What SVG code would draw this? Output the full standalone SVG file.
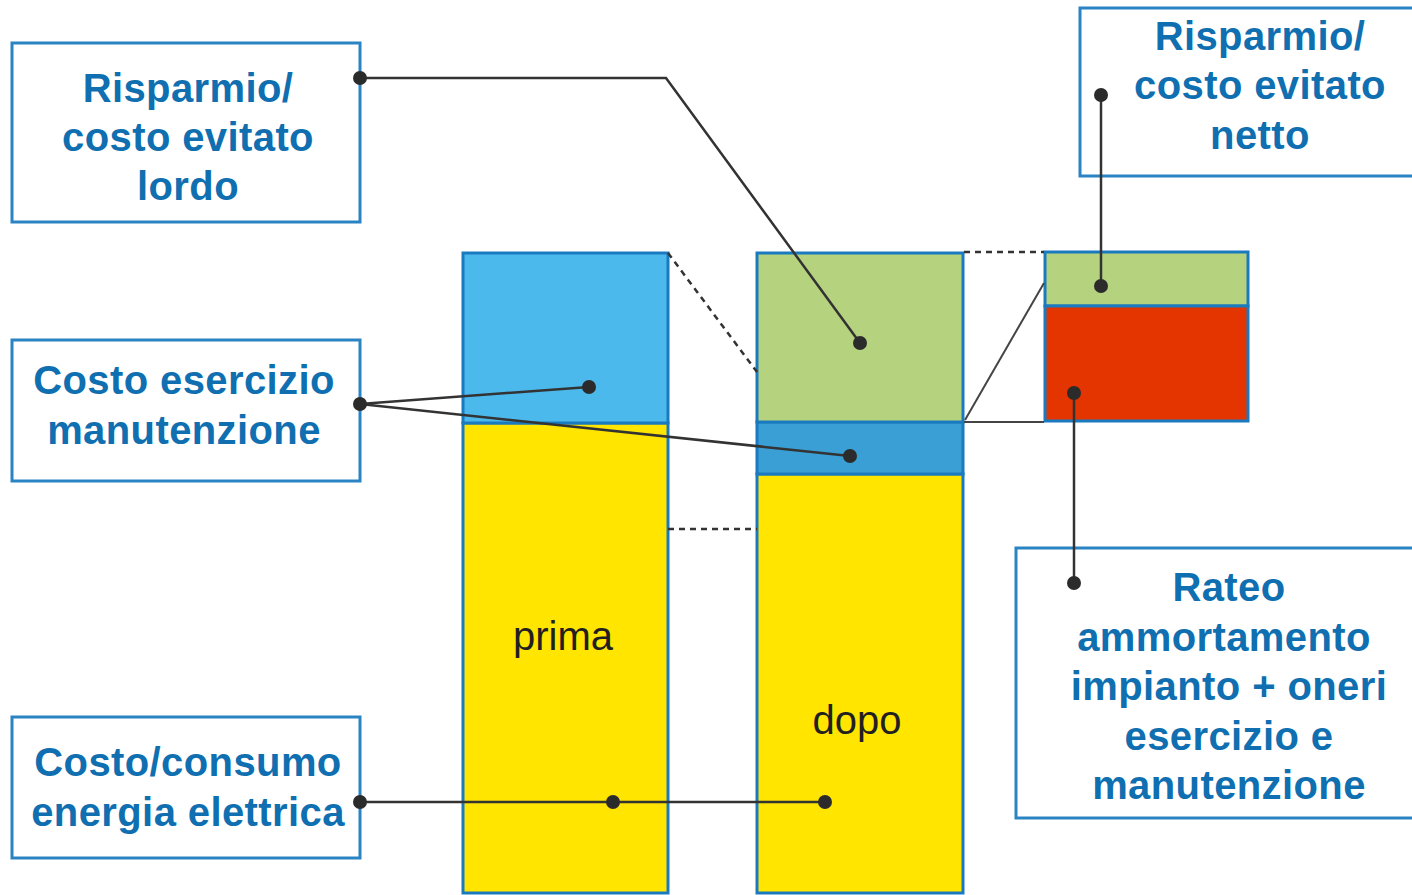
<svg xmlns="http://www.w3.org/2000/svg" width="1412" height="895" viewBox="0 0 1412 895">
<style>
.box{fill:#fff;stroke:#2a84c4;stroke-width:3}
.lbl{font-family:"Liberation Sans",Arial,sans-serif;font-weight:bold;font-size:40px;fill:#0f6fb0;text-anchor:middle;letter-spacing:0.4px}
.bar{font-family:"Liberation Sans",Arial,sans-serif;font-size:40px;fill:#231f20;text-anchor:middle}
.seg{stroke:#1a7ac0;stroke-width:3}
.ln{stroke:#333;stroke-width:2.5;fill:none}
.dash{stroke:#333;stroke-width:2.5;fill:none;stroke-dasharray:6 5}
.thin{stroke:#444;stroke-width:2;fill:none}
.dot{fill:#2b2b2b}
</style>
<rect width="1412" height="895" fill="#fff"/>
<g id="bar-prima">
<rect class="seg" x="463" y="423" width="205" height="470" fill="#ffe500" stroke-width="2"/>
<rect class="seg" x="463" y="253" width="205" height="170" fill="#4cb9ec"/>
<text class="bar" x="563" y="650">prima</text>
</g>
<g id="bar-dopo">
<rect class="seg" x="757" y="474" width="206" height="419" fill="#ffe500" stroke-width="2"/>
<rect class="seg" x="757" y="422" width="206" height="52" fill="#3a9fd4"/>
<rect class="seg" x="757" y="253" width="206" height="169" fill="#b5d27e" stroke-width="2"/>
<text class="bar" x="857" y="734">dopo</text>
</g>
<g id="bar-netto">
<rect class="seg" x="1045" y="252" width="203" height="54" fill="#b5d27e"/>
<rect class="seg" x="1045" y="306" width="203" height="115" fill="#e43400"/>
</g>
<g id="box-lordo">
<rect class="box" x="12" y="43" width="348" height="179"/>
<text class="lbl" x="188" y="102">Risparmio/</text>
<text class="lbl" x="188" y="151">costo evitato</text>
<text class="lbl" x="188" y="200">lordo</text>
</g>
<g id="box-esercizio">
<rect class="box" x="12" y="340" width="348" height="141"/>
<text class="lbl" x="184" y="394">Costo esercizio</text>
<text class="lbl" x="184" y="444">manutenzione</text>
</g>
<g id="box-energia">
<rect class="box" x="12" y="717" width="348" height="141"/>
<text class="lbl" x="188" y="776">Costo/consumo</text>
<text class="lbl" x="188" y="826">energia elettrica</text>
</g>
<g id="box-netto">
<rect class="box" x="1080" y="8" width="340" height="168"/>
<text class="lbl" x="1260" y="50">Risparmio/</text>
<text class="lbl" x="1260" y="99">costo evitato</text>
<text class="lbl" x="1260" y="149">netto</text>
</g>
<g id="box-rateo">
<rect class="box" x="1016" y="548" width="404" height="270"/>
<text class="lbl" x="1229" y="601">Rateo</text>
<text class="lbl" x="1224" y="651">ammortamento</text>
<text class="lbl" x="1229" y="700">impianto + oneri</text>
<text class="lbl" x="1229" y="750">esercizio e</text>
<text class="lbl" x="1229" y="799">manutenzione</text>
</g>
<g id="connectors">
<line class="dash" x1="668" y1="253" x2="757" y2="372"/>
<line class="dash" x1="668" y1="529" x2="757" y2="529"/>
<line class="dash" x1="964" y1="252" x2="1044" y2="252"/>
<line class="thin" x1="965" y1="420" x2="1044" y2="283"/>
<line class="thin" x1="964" y1="422" x2="1044" y2="422"/>
<polyline class="ln" points="360,78 666,78 860,343"/>
<line class="ln" x1="360" y1="404" x2="589" y2="387"/>
<line class="ln" x1="360" y1="404" x2="850" y2="456"/>
<line class="ln" x1="360" y1="802" x2="825" y2="802"/>
<line class="ln" x1="1101" y1="95" x2="1101" y2="286"/>
<line class="ln" x1="1074" y1="393" x2="1074" y2="583"/>
<circle class="dot" cx="360" cy="78" r="7"/>
<circle class="dot" cx="860" cy="343" r="7"/>
<circle class="dot" cx="360" cy="404" r="7"/>
<circle class="dot" cx="589" cy="387" r="7"/>
<circle class="dot" cx="850" cy="456" r="7"/>
<circle class="dot" cx="360" cy="802" r="7"/>
<circle class="dot" cx="613" cy="802" r="7"/>
<circle class="dot" cx="825" cy="802" r="7"/>
<circle class="dot" cx="1101" cy="95" r="7"/>
<circle class="dot" cx="1101" cy="286" r="7"/>
<circle class="dot" cx="1074" cy="393" r="7"/>
<circle class="dot" cx="1074" cy="583" r="7"/>
</g>
</svg>
